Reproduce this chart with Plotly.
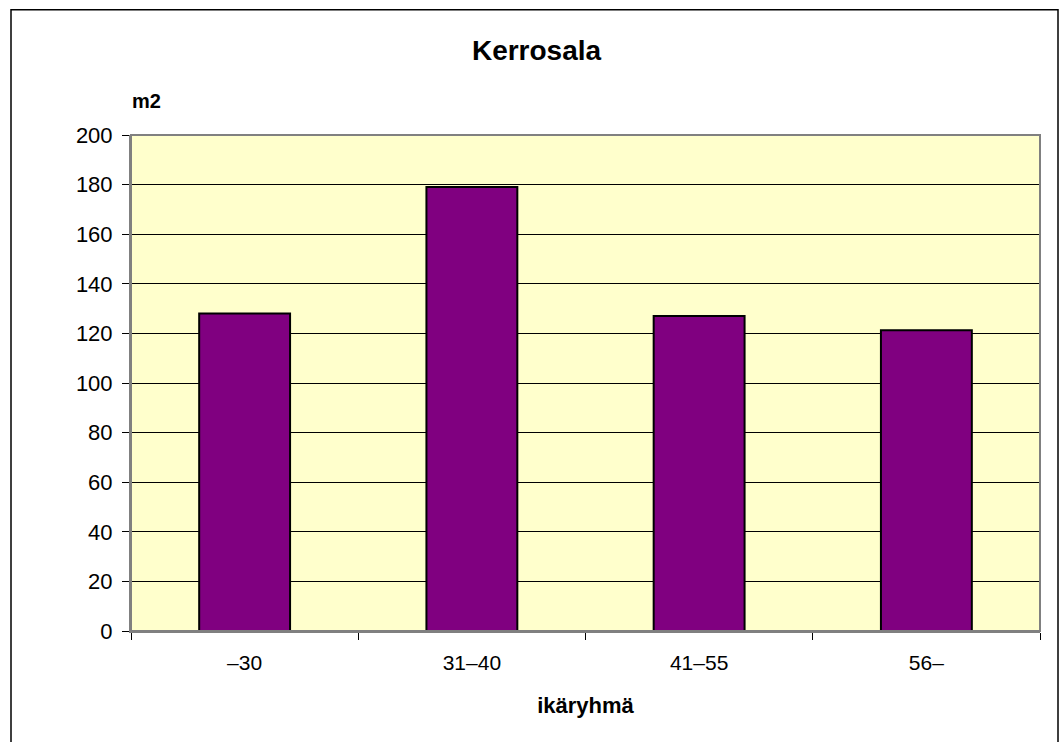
import plotly.graph_objects as go

categories = ["–30", "31–40", "41–55", "56–"]
values = [128, 179, 127, 121.3]
y_ticks = [0, 20, 40, 60, 80, 100, 120, 140, 160, 180, 200]

W, H = 1062, 742
L, R, T, B = 131, 1040, 134.5, 631
pw, ph = R - L, B - T

def px_x(x):
    return (x - L) / pw

def px_y(y):
    return (B - y) / ph

fig = go.Figure()
fig.add_trace(go.Bar(
    x=categories, y=values,
    marker=dict(color="#800080", line=dict(color="black", width=2)),
    hoverinfo="x+y",
))

font = "Liberation Sans, Arial, sans-serif"
fig.update_layout(
    width=W, height=H,
    margin=dict(l=L, r=W - R, t=T, b=H - B, pad=0),
    paper_bgcolor="white",
    plot_bgcolor="#FFFFCC",
    bargap=0.6,
    showlegend=False,
    font=dict(family=font, color="black", size=21),
    title=dict(text="<b>Kerrosala</b>", x=536.5 / W, xanchor="center",
               y=1 - 50 / H, yanchor="middle",
               font=dict(family=font, size=28, color="black")),
    xaxis=dict(
        type="category", tickson="boundaries", ticks="outside", ticklen=7,
        tickcolor="black", tickwidth=1,
        showline=True, linecolor="#808080", linewidth=2,
        showgrid=False, tickfont=dict(size=21), zeroline=False,
        ticklabelstandoff=12,
        title=dict(text="<b>ikäryhmä</b>", font=dict(size=22), standoff=24),
    ),
    yaxis=dict(
        range=[0, 200], tickvals=y_ticks, ticks="outside", ticklen=7,
        tickcolor="black", tickwidth=1,
        showline=True, linecolor="#808080", linewidth=2,
        showgrid=True, gridcolor="black", gridwidth=1,
        zeroline=False, tickfont=dict(size=22),
        ticklabelstandoff=5,
    ),
    annotations=[dict(
        text="<b>m2</b>", xref="paper", yref="paper",
        x=px_x(146), y=px_y(100), xanchor="center", yanchor="middle",
        showarrow=False, font=dict(family=font, size=20, color="black"),
    )],
    shapes=[
        dict(type="rect", xref="paper", yref="paper", x0=0, y0=0, x1=1, y1=1,
             line=dict(color="#808080", width=2), layer="above"),
        dict(type="rect", xref="paper", yref="paper",
             x0=px_x(11), y0=px_y(760), x1=px_x(1058), y1=px_y(9),
             line=dict(color="black", width=1.5), layer="above"),
    ],
)

fig.write_html("out.html")
